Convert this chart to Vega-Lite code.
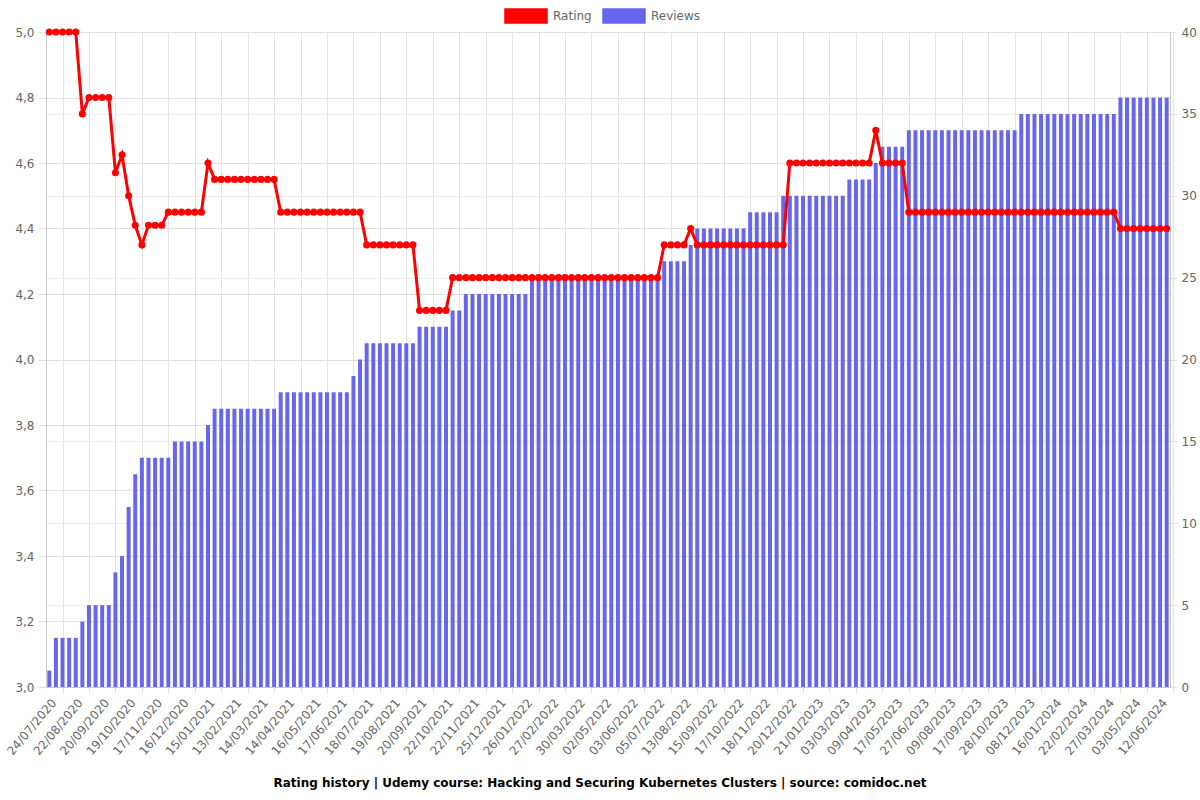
{
  "$schema": "https://vega.github.io/schema/vega-lite/v6.json",
  "width": 1124,
  "height": 655,
  "autosize": {"type": "none"},
  "padding": {"left": 46, "top": 32, "right": 30, "bottom": 113},
  "background": "white",
  "config": {"font": "DejaVu Sans", "view": {"stroke": null}},
  "title": {"text": "Rating history | Udemy course: Hacking and Securing Kubernetes Clusters | source: comidoc.net", "orient": "bottom", "anchor": "middle", "fontSize": 12, "fontWeight": "bold", "color": "#000000", "font": "DejaVu Sans", "offset": 21, "dx": -8},
  "data": {"values": [
    {"date": "24/07/2020", "rating": 5, "reviews": 1},
    {"date": "31/07/2020", "rating": 5, "reviews": 3},
    {"date": "07/08/2020", "rating": 5, "reviews": 3},
    {"date": "15/08/2020", "rating": 5, "reviews": 3},
    {"date": "22/08/2020", "rating": 5, "reviews": 3},
    {"date": "29/08/2020", "rating": 4.75, "reviews": 4},
    {"date": "05/09/2020", "rating": 4.8, "reviews": 5},
    {"date": "13/09/2020", "rating": 4.8, "reviews": 5},
    {"date": "20/09/2020", "rating": 4.8, "reviews": 5},
    {"date": "27/09/2020", "rating": 4.8, "reviews": 5},
    {"date": "04/10/2020", "rating": 4.57, "reviews": 7},
    {"date": "12/10/2020", "rating": 4.625, "reviews": 8},
    {"date": "19/10/2020", "rating": 4.5, "reviews": 11},
    {"date": "26/10/2020", "rating": 4.41, "reviews": 13},
    {"date": "02/11/2020", "rating": 4.35, "reviews": 14},
    {"date": "10/11/2020", "rating": 4.41, "reviews": 14},
    {"date": "17/11/2020", "rating": 4.41, "reviews": 14},
    {"date": "24/11/2020", "rating": 4.41, "reviews": 14},
    {"date": "01/12/2020", "rating": 4.45, "reviews": 14},
    {"date": "09/12/2020", "rating": 4.45, "reviews": 15},
    {"date": "16/12/2020", "rating": 4.45, "reviews": 15},
    {"date": "23/12/2020", "rating": 4.45, "reviews": 15},
    {"date": "31/12/2020", "rating": 4.45, "reviews": 15},
    {"date": "08/01/2021", "rating": 4.45, "reviews": 15},
    {"date": "15/01/2021", "rating": 4.6, "reviews": 16},
    {"date": "22/01/2021", "rating": 4.55, "reviews": 17},
    {"date": "29/01/2021", "rating": 4.55, "reviews": 17},
    {"date": "06/02/2021", "rating": 4.55, "reviews": 17},
    {"date": "13/02/2021", "rating": 4.55, "reviews": 17},
    {"date": "20/02/2021", "rating": 4.55, "reviews": 17},
    {"date": "27/02/2021", "rating": 4.55, "reviews": 17},
    {"date": "07/03/2021", "rating": 4.55, "reviews": 17},
    {"date": "14/03/2021", "rating": 4.55, "reviews": 17},
    {"date": "22/03/2021", "rating": 4.55, "reviews": 17},
    {"date": "30/03/2021", "rating": 4.55, "reviews": 17},
    {"date": "07/04/2021", "rating": 4.45, "reviews": 18},
    {"date": "14/04/2021", "rating": 4.45, "reviews": 18},
    {"date": "22/04/2021", "rating": 4.45, "reviews": 18},
    {"date": "30/04/2021", "rating": 4.45, "reviews": 18},
    {"date": "08/05/2021", "rating": 4.45, "reviews": 18},
    {"date": "16/05/2021", "rating": 4.45, "reviews": 18},
    {"date": "24/05/2021", "rating": 4.45, "reviews": 18},
    {"date": "01/06/2021", "rating": 4.45, "reviews": 18},
    {"date": "09/06/2021", "rating": 4.45, "reviews": 18},
    {"date": "17/06/2021", "rating": 4.45, "reviews": 18},
    {"date": "25/06/2021", "rating": 4.45, "reviews": 18},
    {"date": "03/07/2021", "rating": 4.45, "reviews": 19},
    {"date": "10/07/2021", "rating": 4.45, "reviews": 20},
    {"date": "18/07/2021", "rating": 4.35, "reviews": 21},
    {"date": "26/07/2021", "rating": 4.35, "reviews": 21},
    {"date": "03/08/2021", "rating": 4.35, "reviews": 21},
    {"date": "11/08/2021", "rating": 4.35, "reviews": 21},
    {"date": "19/08/2021", "rating": 4.35, "reviews": 21},
    {"date": "27/08/2021", "rating": 4.35, "reviews": 21},
    {"date": "04/09/2021", "rating": 4.35, "reviews": 21},
    {"date": "12/09/2021", "rating": 4.35, "reviews": 21},
    {"date": "20/09/2021", "rating": 4.15, "reviews": 22},
    {"date": "28/09/2021", "rating": 4.15, "reviews": 22},
    {"date": "06/10/2021", "rating": 4.15, "reviews": 22},
    {"date": "14/10/2021", "rating": 4.15, "reviews": 22},
    {"date": "22/10/2021", "rating": 4.15, "reviews": 22},
    {"date": "30/10/2021", "rating": 4.25, "reviews": 23},
    {"date": "07/11/2021", "rating": 4.25, "reviews": 23},
    {"date": "14/11/2021", "rating": 4.25, "reviews": 24},
    {"date": "22/11/2021", "rating": 4.25, "reviews": 24},
    {"date": "30/11/2021", "rating": 4.25, "reviews": 24},
    {"date": "08/12/2021", "rating": 4.25, "reviews": 24},
    {"date": "16/12/2021", "rating": 4.25, "reviews": 24},
    {"date": "25/12/2021", "rating": 4.25, "reviews": 24},
    {"date": "02/01/2022", "rating": 4.25, "reviews": 24},
    {"date": "10/01/2022", "rating": 4.25, "reviews": 24},
    {"date": "18/01/2022", "rating": 4.25, "reviews": 24},
    {"date": "26/01/2022", "rating": 4.25, "reviews": 24},
    {"date": "03/02/2022", "rating": 4.25, "reviews": 25},
    {"date": "11/02/2022", "rating": 4.25, "reviews": 25},
    {"date": "19/02/2022", "rating": 4.25, "reviews": 25},
    {"date": "27/02/2022", "rating": 4.25, "reviews": 25},
    {"date": "07/03/2022", "rating": 4.25, "reviews": 25},
    {"date": "15/03/2022", "rating": 4.25, "reviews": 25},
    {"date": "22/03/2022", "rating": 4.25, "reviews": 25},
    {"date": "30/03/2022", "rating": 4.25, "reviews": 25},
    {"date": "07/04/2022", "rating": 4.25, "reviews": 25},
    {"date": "16/04/2022", "rating": 4.25, "reviews": 25},
    {"date": "24/04/2022", "rating": 4.25, "reviews": 25},
    {"date": "02/05/2022", "rating": 4.25, "reviews": 25},
    {"date": "10/05/2022", "rating": 4.25, "reviews": 25},
    {"date": "18/05/2022", "rating": 4.25, "reviews": 25},
    {"date": "26/05/2022", "rating": 4.25, "reviews": 25},
    {"date": "03/06/2022", "rating": 4.25, "reviews": 25},
    {"date": "11/06/2022", "rating": 4.25, "reviews": 25},
    {"date": "19/06/2022", "rating": 4.25, "reviews": 25},
    {"date": "27/06/2022", "rating": 4.25, "reviews": 25},
    {"date": "05/07/2022", "rating": 4.25, "reviews": 25},
    {"date": "15/07/2022", "rating": 4.35, "reviews": 26},
    {"date": "24/07/2022", "rating": 4.35, "reviews": 26},
    {"date": "03/08/2022", "rating": 4.35, "reviews": 26},
    {"date": "13/08/2022", "rating": 4.35, "reviews": 26},
    {"date": "21/08/2022", "rating": 4.4, "reviews": 27},
    {"date": "29/08/2022", "rating": 4.35, "reviews": 28},
    {"date": "07/09/2022", "rating": 4.35, "reviews": 28},
    {"date": "15/09/2022", "rating": 4.35, "reviews": 28},
    {"date": "23/09/2022", "rating": 4.35, "reviews": 28},
    {"date": "01/10/2022", "rating": 4.35, "reviews": 28},
    {"date": "09/10/2022", "rating": 4.35, "reviews": 28},
    {"date": "17/10/2022", "rating": 4.35, "reviews": 28},
    {"date": "25/10/2022", "rating": 4.35, "reviews": 28},
    {"date": "02/11/2022", "rating": 4.35, "reviews": 29},
    {"date": "10/11/2022", "rating": 4.35, "reviews": 29},
    {"date": "18/11/2022", "rating": 4.35, "reviews": 29},
    {"date": "26/11/2022", "rating": 4.35, "reviews": 29},
    {"date": "04/12/2022", "rating": 4.35, "reviews": 29},
    {"date": "12/12/2022", "rating": 4.35, "reviews": 30},
    {"date": "20/12/2022", "rating": 4.6, "reviews": 30},
    {"date": "28/12/2022", "rating": 4.6, "reviews": 30},
    {"date": "05/01/2023", "rating": 4.6, "reviews": 30},
    {"date": "13/01/2023", "rating": 4.6, "reviews": 30},
    {"date": "21/01/2023", "rating": 4.6, "reviews": 30},
    {"date": "31/01/2023", "rating": 4.6, "reviews": 30},
    {"date": "11/02/2023", "rating": 4.6, "reviews": 30},
    {"date": "21/02/2023", "rating": 4.6, "reviews": 30},
    {"date": "03/03/2023", "rating": 4.6, "reviews": 30},
    {"date": "12/03/2023", "rating": 4.6, "reviews": 31},
    {"date": "21/03/2023", "rating": 4.6, "reviews": 31},
    {"date": "31/03/2023", "rating": 4.6, "reviews": 31},
    {"date": "09/04/2023", "rating": 4.6, "reviews": 31},
    {"date": "19/04/2023", "rating": 4.7, "reviews": 32},
    {"date": "28/04/2023", "rating": 4.6, "reviews": 33},
    {"date": "07/05/2023", "rating": 4.6, "reviews": 33},
    {"date": "17/05/2023", "rating": 4.6, "reviews": 33},
    {"date": "27/05/2023", "rating": 4.6, "reviews": 33},
    {"date": "06/06/2023", "rating": 4.45, "reviews": 34},
    {"date": "17/06/2023", "rating": 4.45, "reviews": 34},
    {"date": "27/06/2023", "rating": 4.45, "reviews": 34},
    {"date": "08/07/2023", "rating": 4.45, "reviews": 34},
    {"date": "18/07/2023", "rating": 4.45, "reviews": 34},
    {"date": "29/07/2023", "rating": 4.45, "reviews": 34},
    {"date": "09/08/2023", "rating": 4.45, "reviews": 34},
    {"date": "19/08/2023", "rating": 4.45, "reviews": 34},
    {"date": "29/08/2023", "rating": 4.45, "reviews": 34},
    {"date": "07/09/2023", "rating": 4.45, "reviews": 34},
    {"date": "17/09/2023", "rating": 4.45, "reviews": 34},
    {"date": "27/09/2023", "rating": 4.45, "reviews": 34},
    {"date": "07/10/2023", "rating": 4.45, "reviews": 34},
    {"date": "18/10/2023", "rating": 4.45, "reviews": 34},
    {"date": "28/10/2023", "rating": 4.45, "reviews": 34},
    {"date": "07/11/2023", "rating": 4.45, "reviews": 34},
    {"date": "17/11/2023", "rating": 4.45, "reviews": 34},
    {"date": "28/11/2023", "rating": 4.45, "reviews": 35},
    {"date": "08/12/2023", "rating": 4.45, "reviews": 35},
    {"date": "18/12/2023", "rating": 4.45, "reviews": 35},
    {"date": "28/12/2023", "rating": 4.45, "reviews": 35},
    {"date": "06/01/2024", "rating": 4.45, "reviews": 35},
    {"date": "16/01/2024", "rating": 4.45, "reviews": 35},
    {"date": "25/01/2024", "rating": 4.45, "reviews": 35},
    {"date": "03/02/2024", "rating": 4.45, "reviews": 35},
    {"date": "13/02/2024", "rating": 4.45, "reviews": 35},
    {"date": "22/02/2024", "rating": 4.45, "reviews": 35},
    {"date": "02/03/2024", "rating": 4.45, "reviews": 35},
    {"date": "11/03/2024", "rating": 4.45, "reviews": 35},
    {"date": "19/03/2024", "rating": 4.45, "reviews": 35},
    {"date": "27/03/2024", "rating": 4.45, "reviews": 35},
    {"date": "05/04/2024", "rating": 4.45, "reviews": 35},
    {"date": "14/04/2024", "rating": 4.4, "reviews": 36},
    {"date": "24/04/2024", "rating": 4.4, "reviews": 36},
    {"date": "03/05/2024", "rating": 4.4, "reviews": 36},
    {"date": "13/05/2024", "rating": 4.4, "reviews": 36},
    {"date": "23/05/2024", "rating": 4.4, "reviews": 36},
    {"date": "02/06/2024", "rating": 4.4, "reviews": 36},
    {"date": "12/06/2024", "rating": 4.4, "reviews": 36},
    {"date": "21/06/2024", "rating": 4.4, "reviews": 36}
  ]},
  "encoding": {
    "x": {
      "field": "date", "type": "ordinal", "sort": null,
      "scale": {"paddingInner": 0.4, "paddingOuter": 0.2},
      "axis": {
        "title": null,
        "values": ["24/07/2020","22/08/2020","20/09/2020","19/10/2020","17/11/2020","16/12/2020","15/01/2021","13/02/2021","14/03/2021","14/04/2021","16/05/2021","17/06/2021","18/07/2021","19/08/2021","20/09/2021","22/10/2021","22/11/2021","25/12/2021","26/01/2022","27/02/2022","30/03/2022","02/05/2022","03/06/2022","05/07/2022","13/08/2022","15/09/2022","17/10/2022","18/11/2022","20/12/2022","21/01/2023","03/03/2023","09/04/2023","17/05/2023","27/06/2023","09/08/2023","17/09/2023","28/10/2023","08/12/2023","16/01/2024","22/02/2024","27/03/2024","03/05/2024","12/06/2024"],
        "labelAngle": -50, "labelAlign": "right", "labelBaseline": "middle",
        "labelOffset": -9, "tickOffset": 13.22,
        "grid": true, "gridColor": "#e3e3e3", "tickColor": "#e3e3e3", "tickSize": 6, "labelPadding": 7,
        "labelFont": "DejaVu Sans", "labelFontSize": 12, "labelColor": "#666666",
        "domainColor": "#c8c8c8", "labelOverlap": false, "labelBound": false
      }
    }
  },
  "layer": [
    {
      "mark": {"type": "bar"},
      "encoding": {
        "y": {
          "field": "reviews", "type": "quantitative",
          "scale": {"domain": [0, 40], "nice": false},
          "axis": {"orient": "right", "title": null, "values": [0,5,10,15,20,25,30,35,40], "grid": true, "gridColor": "#eeeeee", "tickColor": "#e3e3e3", "tickSize": 7, "labelPadding": 4, "domainColor": "#c8c8c8", "labelFont": "DejaVu Sans", "labelFontSize": 12, "labelColor": "#666666"}
        },
        "color": {
          "datum": "Reviews", "type": "nominal",
          "scale": {"domain": ["Rating", "Reviews"], "range": ["#ff0000", "#6666ee"]},
          "legend": {
            "title": null, "orient": "none", "legendX": 458, "legendY": -38, "direction": "horizontal",
            "padding": 0, "symbolType": "M-1,-0.333H1V0.333H-1Z", "symbolSize": 1764,
            "labelFont": "DejaVu Sans", "labelFontSize": 12, "labelColor": "#666666", "labelOffset": 5, "columnPadding": 8,
            "encode": {"symbols": {"update": {"fill": {"scale": "color", "field": "value"}, "fillOpacity": {"value": 1}, "stroke": {"value": "transparent"}}}}
          }
        }
      }
    },
    {
      "mark": {"type": "line", "strokeWidth": 3, "point": {"filled": true, "size": 50}},
      "encoding": {
        "y": {
          "field": "rating", "type": "quantitative",
          "scale": {"domain": [3, 5], "nice": false, "zero": false},
          "axis": {"orient": "left", "title": null, "values": [3,3.2,3.4,3.6,3.8,4,4.2,4.4,4.6,4.8,5], "labelExpr": "replace(format(datum.value, '.1f'), '.', ',')", "grid": true, "gridColor": "#e0e0e0", "tickColor": "#e0e0e0", "tickSize": 8, "labelPadding": 4, "domainColor": "#c8c8c8", "labelFont": "DejaVu Sans", "labelFontSize": 12, "labelColor": "#666666"}
        },
        "color": {"datum": "Rating", "type": "nominal"}
      }
    }
  ],
  "resolve": {"scale": {"y": "independent"}}
}
